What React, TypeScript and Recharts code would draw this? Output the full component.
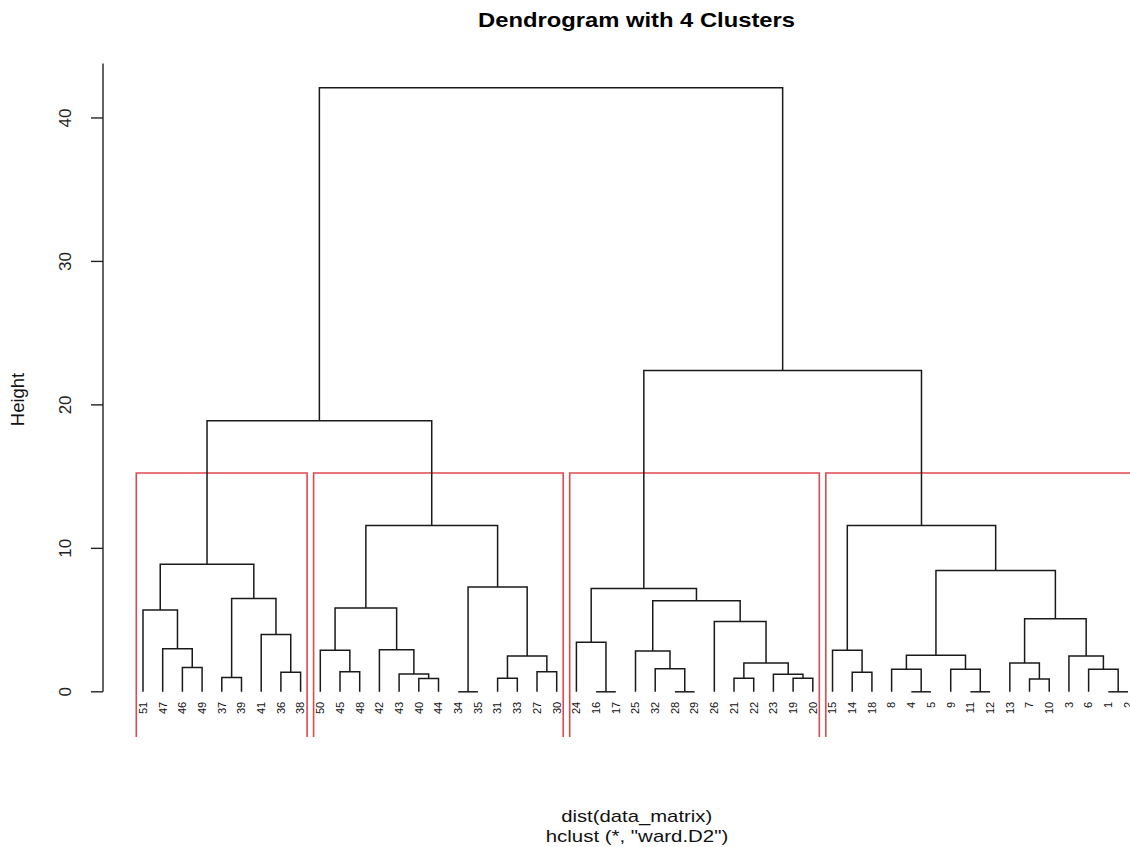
import React from "react";
import {
    ComposedChart,
    Line,
    Scatter,
    XAxis,
    YAxis,
    ReferenceArea,
    ReferenceLine,
} from "recharts";

// leaf labels, left to right as drawn
const leafOrder = [
    51, 47, 46, 49, 37, 39, 41, 36, 38,
    50, 45, 48, 42, 43, 40, 44, 34, 35, 31, 33, 27, 30,
    24, 16, 17, 25, 32, 28, 29, 26, 21, 22, 23, 19, 20,
    15, 14, 18, 8, 4, 5, 9, 11, 12, 13, 7, 10, 3, 6, 1, 2,
];

// hclust-style merge table: negative = leaf label, positive = earlier merge (1-based)
const mergePairs: [number, number][] = [
    [-34, -35], [-16, -17], [-28, -29], [-4, -5], [-11, -12],
    [-1, -2], [-7, -10], [-40, -44], [-31, -33], [-21, -22],
    [-19, -20], [-37, -39], [-23, 11], [-43, 8], [-36, -38],
    [-14, -18], [-45, -48], [-27, -30], [-32, 3], [-8, 4],
    [-9, 5], [-6, 6], [-46, -49], [-13, 7], [10, 13],
    [-3, 22], [9, 18], [20, 21], [-25, 19], [-50, 17],
    [-15, 16], [-42, 14], [-47, 23], [-24, 2], [-41, 15],
    [-26, 25], [24, 26], [-51, 33], [30, 32], [29, 36],
    [12, 35], [34, 40], [1, 27], [28, 37], [38, 41],
    [39, 43], [31, 44], [45, 46], [42, 47], [48, 49],
];

const mergeHeights = [
    0, 0, 0, 0, 0,
    0, 0.9, 0.93, 0.95, 0.95,
    0.95, 1.0, 1.23, 1.25, 1.37,
    1.37, 1.4, 1.4, 1.6, 1.58,
    1.58, 1.58, 1.7, 2.0, 2.0,
    2.5, 2.5, 2.55, 2.85, 2.9,
    2.9, 2.93, 3.0, 3.45, 4.0,
    4.9, 5.1, 5.7, 5.85, 6.35,
    6.5, 7.2, 7.3, 8.45, 8.9,
    11.6, 11.6, 18.9, 22.4, 42.1,
];

const heightTicks = [0, 10, 20, 30, 40];
const K = 4;

const X_MIN = -1.03;
const X_MAX = 51.1;
const Y_MIN = -3.15;
const Y_MAX = 43.9;
const AXIS_TOP = 43.8;

const FONT = '"Liberation Sans", Arial, Helvetica, sans-serif';
const RED = "#de4a4f";

// leaf positions 1..n, node x = midpoint of children
const leafPos = new Map(leafOrder.map((l, i) => [l, i + 1]));
const nodeX: number[] = [];
const childX = (c: number) => (c < 0 ? (leafPos.get(-c) as number) : nodeX[c - 1]);
const childH = (c: number) => (c < 0 ? 0 : mergeHeights[c - 1]);

const segments = mergePairs.map(([a, b], i) => {
    nodeX[i] = (childX(a) + childX(b)) / 2;
    const h = mergeHeights[i];
    return [
        { x: childX(a), y: childH(a) },
        { x: childX(a), y: h },
        { x: childX(b), y: h },
        { x: childX(b), y: childH(b) },
    ];
});

// cut the tree into K clusters like rect.hclust
const sortedH = [...mergeHeights].sort((p, q) => q - p);
const cutH = (sortedH[K - 2] + sortedH[K - 1]) / 2;

function leavesOf(c: number): number[] {
    if (c < 0) return [leafPos.get(-c) as number];
    const [a, b] = mergePairs[c - 1];
    return [...leavesOf(a), ...leavesOf(b)];
}

function splitAt(c: number, out: number[][]) {
    if (c > 0 && mergeHeights[c - 1] > cutH) {
        const [a, b] = mergePairs[c - 1];
        splitAt(a, out);
        splitAt(b, out);
    } else {
        out.push(leavesOf(c));
    }
}

const clusterLeaves: number[][] = [];
splitAt(mergePairs.length, clusterLeaves);
const clusterBoxes = clusterLeaves.map((ls) => ({
    x1: Math.min(...ls) - 0.34,
    x2: Math.max(...ls) + 0.33,
}));

const leafPoints = leafOrder.map((l, i) => ({ x: i + 1, y: 0, label: String(l) }));

function LeafLabel(props: any) {
    const { cx, cy, payload } = props;
    const ty = cy + 10;
    return (
        <text
            x={cx}
            y={ty}
            transform={`rotate(-90, ${cx}, ${ty})`}
            textAnchor="end"
            dy="0.35em"
            fontSize={11}
            fontFamily={FONT}
            fill="#111"
        >
            {payload.label}
        </text>
    );
}

function HeightTick(props: any) {
    const { x, y, payload } = props;
    return (
        <text
            x={x}
            y={y}
            transform={`rotate(-90, ${x}, ${y})`}
            textAnchor="middle"
            fontSize={17}
            fontFamily={FONT}
            fill="#222"
        >
            {payload.value}
        </text>
    );
}

function HeightLabel(props: any) {
    const { viewBox } = props;
    const x = viewBox.x + 24;
    const y = viewBox.y + viewBox.height / 2;
    return (
        <text
            x={x}
            y={y}
            transform={`rotate(-90, ${x}, ${y})`}
            textAnchor="middle"
            fontSize={18.5}
            fontFamily={FONT}
            fill="#111"
        >
            Height
        </text>
    );
}

export default function App() {
    return (
        <div style={{ position: "absolute", left: 0, top: 0, width: 1130, height: 847, background: "#fff" }}>
            <ComposedChart
                width={1130}
                height={847}
                margin={{ top: 62, right: 0, bottom: 110, left: 0 }}
            >
                <XAxis
                    type="number"
                    dataKey="x"
                    domain={[X_MIN, X_MAX]}
                    allowDataOverflow
                    hide
                />
                <YAxis
                    type="number"
                    dataKey="y"
                    domain={[Y_MIN, Y_MAX]}
                    allowDataOverflow
                    ticks={heightTicks}
                    width={103}
                    tickSize={12}
                    tickMargin={20}
                    axisLine={false}
                    tickLine={{ stroke: "#222", strokeWidth: 1.4 }}
                    tick={<HeightTick />}
                    label={<HeightLabel />}
                />

                {/* y axis line from 0 up */}
                <ReferenceLine
                    segment={[
                        { x: X_MIN, y: 0 },
                        { x: X_MIN, y: AXIS_TOP },
                    ]}
                    stroke="#222"
                    strokeWidth={1.4}
                    ifOverflow="visible"
                />

                {/* cluster boxes */}
                {clusterBoxes.map((b, i) => (
                    <ReferenceArea
                        key={`box-${i}`}
                        x1={b.x1}
                        x2={b.x2}
                        y1={Y_MIN - 2}
                        y2={cutH}
                        fill="none"
                        stroke={RED}
                        strokeWidth={1.6}
                        ifOverflow="hidden"
                    />
                ))}

                {segments.map((seg, i) => (
                    <Line
                        key={`m-${i}`}
                        data={seg}
                        dataKey="y"
                        type="linear"
                        stroke="#1a1a1a"
                        strokeWidth={1.5}
                        dot={false}
                        activeDot={false}
                        isAnimationActive={false}
                    />
                ))}

                <Scatter
                    data={leafPoints}
                    dataKey="y"
                    shape={<LeafLabel />}
                    isAnimationActive={false}
                />
            </ComposedChart>

            <svg
                width={1130}
                height={847}
                style={{ position: "absolute", left: 0, top: 0, pointerEvents: "none" }}
            >
                <text
                    x={636.5}
                    y={26.7}
                    textAnchor="middle"
                    fontSize={21}
                    fontWeight="bold"
                    fontFamily={FONT}
                    textLength={317}
                    lengthAdjust="spacingAndGlyphs"
                    fill="#000"
                >
                    Dendrogram with 4 Clusters
                </text>
                <text
                    x={636.7}
                    y={821.5}
                    textAnchor="middle"
                    fontSize={17}
                    fontFamily={FONT}
                    textLength={151}
                    lengthAdjust="spacingAndGlyphs"
                    fill="#111"
                >
                    dist(data_matrix)
                </text>
                <text
                    x={637}
                    y={841.5}
                    textAnchor="middle"
                    fontSize={17}
                    fontFamily={FONT}
                    textLength={182.6}
                    lengthAdjust="spacingAndGlyphs"
                    fill="#111"
                >
                    hclust (*, "ward.D2")
                </text>
            </svg>
        </div>
    );
}
